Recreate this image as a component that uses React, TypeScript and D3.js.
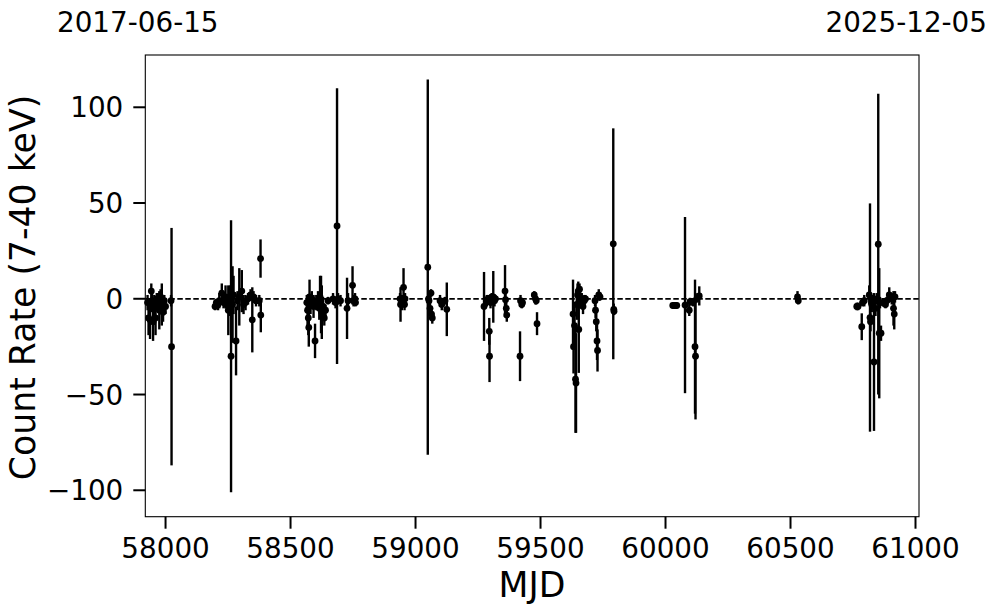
import React from 'react';
import * as d3 from 'd3';

const mjd = [
  57928, 57932, 57938, 57943, 57946, 57950, 57955, 57960, 57965, 57970, 57975, 57980, 57985, 57990, 57995, 58000, 58022, 58024,
  58198, 58203, 58210, 58215, 58225, 58232, 58240, 58245, 58251, 58258, 58262, 58268, 58272, 58282, 58288, 58295, 58305, 58312, 58320, 58330, 58340, 58347, 58352, 58362, 58375, 58380, 58381,
  58565, 58568, 58571, 58573, 58576, 58580, 58585, 58592, 58598, 58603, 58610, 58615, 58618, 58622, 58625, 58630, 58635, 58640, 58650, 58670, 58680, 58686, 58690, 58700, 58726, 58730, 58748, 58752, 58758, 58760,
  58938, 58940, 58945, 58952, 58956, 58958, 59049, 59052, 59054, 59058, 59062, 59064, 59067, 59098, 59105, 59118, 59125,
  59274, 59285, 59290, 59295, 59296, 59300, 59305, 59311, 59316, 59320, 59358, 59360, 59363, 59365, 59418, 59420, 59425, 59428, 59475, 59480, 59483, 59486,
  59630, 59632, 59636, 59640, 59642, 59645, 59648, 59651, 59653, 59656, 59660, 59665, 59670, 59675, 59680, 59718, 59720, 59723, 59726, 59728, 59733, 59738, 59791, 59793, 59794,
  60029, 60035, 60040, 60045, 60078, 60095, 60098, 60110, 60118, 60120, 60125, 60135,
  60528, 60531,
  60765, 60770, 60785, 60788, 60795, 60815, 60818, 60820, 60825, 60830, 60834, 60840, 60845, 60851, 60855, 60858, 60862, 60870, 60880, 60885, 60895, 60905, 60912, 60915, 60918,
];
const rate = [
  -2, -10, -11, 4, -1, -12, -4, -10, 0, -2, -6, 1, -3, -7, -1, -4, -1, -25,
  -4, -2, -3, -1, 3, -2, 1, -3, -6, -1, -30, -3, 2, -22, -1, 1, 4, -3, -2, 0, 2, -11, 1, -1, -1, 21, -8.5,
  -2, -6, -10, -15, 1, -3, 0, -4, -22, -2, -1, -5, 1, -3, -7, -4, -10, -6, -1, 0, -2, 38, 0, -1, -5, -1, 7, -1, 0, -2,
  0, -3, -2, 6, -3, 0, 16.5, 0, -1, -5, 3, -8, -10, -1, -3, -1, -5.5,
  -4, -1, 0, -17, -30, -2, 1, 1, -1, 0, 4, -0.5, -5, -8.5, -30, -1, -3, -2, 2, 0, -1, -13,
  -8, -25, -14, -42, -44, -3, 2, 4, -16, 5, -1, 0, -4, -1, 0, -1, -6, -12, -22, -27, 2, 1, 28.7, -5.5, -6.5,
  -3.5, -3.5, -3.5, -3.5, -3.3, -6, -1.5, -2, -25, -30, 0, 1.5,
  1, -1,
  -4, -4, -14.6, -2, -1, 2, -9.8, -12, -3, -1, -33, -5, 0, 28.5, -18, -2, -18, -2, -3, -1, 2, 0, -5, -8, 1,
];
const err = [
  4, 9, 10, 4, 6, 10, 6, 9, 3, 5, 10, 4, 11, 5, 3, 4, 3, 62,
  2, 2, 3, 4, 5, 3, 6, 4, 13, 8, 71, 20, 10, 18, 5, 15, 11, 5, 4, 3, 3, 17, 3, 3, 3, 10, 9,
  4, 8, 9, 10, 9, 5, 4, 6, 9, 4, 5, 6, 11, 15, 14, 5, 4, 3, 2, 3, 3, 72, 3, 3, 16, 4, 10, 3, 3, 2,
  3, 9, 4, 10, 3, 3, 98, 3, 2, 3, 2, 3, 3, 3, 3, 2, 14,
  18, 3, 2, 7, 13.5, 3, 2, 13.5, 3, 2, 13.6, 3, 3, 3.5, 13, 3, 2, 2, 2, 3, 2, 6,
  18, 14, 10, 28, 26, 8, 6, 5, 22.7, 3, 4, 3, 4, 3, 2, 3, 4, 5, 10, 11, 3, 2, 60.3, 3, 2,
  1, 1, 1, 1, 46, 3, 2, 2, 35, 33, 2, 5,
  3, 2,
  2, 2, 7, 2, 3, 5, 59.6, 5, 4, 3, 36, 4, 3, 78.5, 34, 3, 4, 2, 2, 2, 4, 3, 9, 8, 3,
];

const xTicks = [58000, 58500, 59000, 59500, 60000, 60500, 61000];
const yTicks = [-100, -50, 0, 50, 100];
const topLabels = ['2017-06-15', '2025-12-05'];
const xDomain = [57919, 61014];
const yDomain = [-113.8, 127.3];

export default function App() {
  const W = 997, H = 613;
  const L = 145.3, R = 919, T = 55, B = 516.7;
  const x = d3.scaleLinear().domain(xDomain).range([L, R]);
  const y = d3.scaleLinear().domain(yDomain).range([B, T]);
  const font = "'DejaVu Sans', sans-serif";
  const tickFs = 27.8;
  const labFs = 34.7;
  const fmt = (v: number) => (v < 0 ? '\u2212' + Math.abs(v) : String(v));
  const pts = mjd.map((m, i) => ({ m, r: rate[i], e: err[i] }));
  return (
    <svg width={W} height={H} style={{ position: 'absolute', left: 0, top: 0, background: '#fff' }} fontFamily={font}>
      <rect x={0} y={0} width={W} height={H} fill="#fff" />
      <line x1={L} x2={R} y1={y(0)} y2={y(0)} stroke="#000" strokeWidth={1.7} strokeDasharray="5.5,2.5" />
      <g>
        {pts.map((p, i) => (
          <line key={'e' + i} x1={x(p.m)} x2={x(p.m)} y1={y(p.r + p.e)} y2={y(p.r - p.e)} stroke="#000" strokeWidth={2.4} />
        ))}
        {pts.map((p, i) => (
          <circle key={'c' + i} cx={x(p.m)} cy={y(p.r)} r={3.4} fill="#000" />
        ))}
      </g>
      <rect x={L} y={T} width={R - L} height={B - T} fill="none" stroke="#000" strokeWidth={1.1} />
      {xTicks.map((t) => (
        <g key={'x' + t}>
          <line x1={x(t)} x2={x(t)} y1={B} y2={B + 12} stroke="#000" strokeWidth={2} />
          <text x={x(t)} y={557.5} textAnchor="middle" fontSize={tickFs}>{t}</text>
        </g>
      ))}
      {yTicks.map((t) => (
        <g key={'y' + t}>
          <line x1={L - 12} x2={L} y1={y(t)} y2={y(t)} stroke="#000" strokeWidth={2} />
          <text x={123.3} y={y(t) + 10.1} textAnchor="end" fontSize={tickFs}>{fmt(t)}</text>
        </g>
      ))}
      <text x={532} y={597} textAnchor="middle" fontSize={labFs}>MJD</text>
      <text transform={`translate(35,287.5) rotate(-90)`} textAnchor="middle" fontSize={labFs}>Count Rate (7-40 keV)</text>
      <text x={57} y={32} textAnchor="start" fontSize={tickFs}>{topLabels[0]}</text>
      <text x={987} y={32} textAnchor="end" fontSize={tickFs}>{topLabels[1]}</text>
    </svg>
  );
}
